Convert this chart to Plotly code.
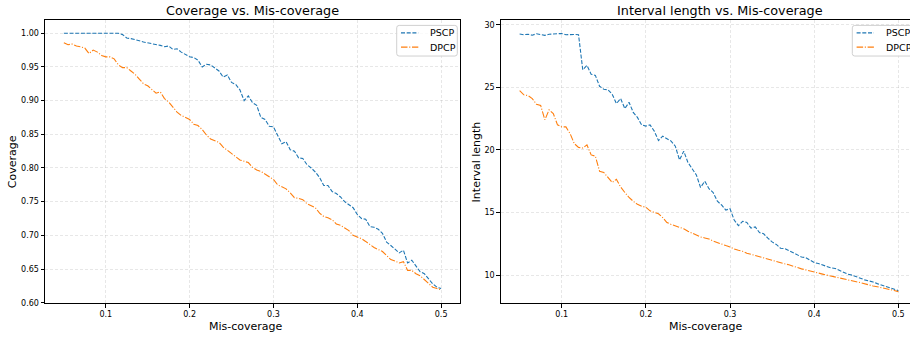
import plotly.graph_objects as go

miscoverage = [
    0.05, 0.055, 0.06, 0.065, 0.07, 0.075, 0.08, 0.085, 0.09, 0.095,
    0.1, 0.105, 0.11, 0.115, 0.12, 0.125, 0.13, 0.135, 0.14, 0.145,
    0.15, 0.155, 0.16, 0.165, 0.17, 0.175, 0.18, 0.185, 0.19, 0.195,
    0.2, 0.205, 0.21, 0.215, 0.22, 0.225, 0.23, 0.235, 0.24, 0.245,
    0.25, 0.255, 0.26, 0.265, 0.27, 0.275, 0.28, 0.285, 0.29, 0.295,
    0.3, 0.305, 0.31, 0.315, 0.32, 0.325, 0.33, 0.335, 0.34, 0.345,
    0.35, 0.355, 0.36, 0.365, 0.37, 0.375, 0.38, 0.385, 0.39, 0.395,
    0.4, 0.405, 0.41, 0.415, 0.42, 0.425, 0.43, 0.435, 0.44, 0.445,
    0.45, 0.455, 0.46, 0.465, 0.47, 0.475, 0.48, 0.485, 0.49, 0.495,
    0.5,
]

pscp_coverage = [
    1.0, 1.0, 1.0, 1.0, 1.0, 1.0, 1.0, 1.0, 1.0, 1.0,
    1.0, 1.0, 1.0, 1.0, 0.998, 0.993, 0.992, 0.991, 0.989, 0.987,
    0.986, 0.985, 0.984, 0.982, 0.980, 0.981, 0.976, 0.977, 0.972, 0.969,
    0.965, 0.964, 0.960, 0.950, 0.954, 0.953, 0.949, 0.944, 0.935, 0.938,
    0.927, 0.924, 0.916, 0.900, 0.907, 0.897, 0.893, 0.875, 0.872, 0.862,
    0.861, 0.848, 0.836, 0.839, 0.827, 0.825, 0.815, 0.814, 0.805, 0.800,
    0.794, 0.786, 0.774, 0.774, 0.765, 0.762, 0.757, 0.750, 0.746, 0.741,
    0.731, 0.725, 0.724, 0.713, 0.712, 0.709, 0.703, 0.690, 0.685, 0.680,
    0.674, 0.678, 0.659, 0.663, 0.655, 0.646, 0.643, 0.636, 0.628, 0.623,
    0.621,
]

dpcp_coverage = [
    0.986, 0.983, 0.984, 0.981, 0.980, 0.978, 0.970, 0.975, 0.972, 0.967,
    0.965, 0.965, 0.962, 0.953, 0.949, 0.949, 0.944, 0.939, 0.932, 0.925,
    0.922, 0.917, 0.911, 0.913, 0.903, 0.898, 0.891, 0.883, 0.878, 0.875,
    0.872, 0.865, 0.863, 0.857, 0.849, 0.843, 0.840, 0.838, 0.831, 0.826,
    0.821, 0.817, 0.812, 0.810, 0.808, 0.801, 0.797, 0.795, 0.791, 0.787,
    0.783, 0.775, 0.772, 0.769, 0.763, 0.756, 0.755, 0.753, 0.747, 0.744,
    0.741, 0.733, 0.728, 0.726, 0.723, 0.717, 0.715, 0.711, 0.707, 0.700,
    0.698, 0.695, 0.691, 0.686, 0.682, 0.679, 0.676, 0.670, 0.664, 0.662,
    0.659, 0.661, 0.648, 0.648, 0.643, 0.640, 0.634, 0.629, 0.623, 0.621,
    0.619,
]

pscp_length = [
    29.26, 29.2, 29.24, 29.16, 29.28, 29.2, 29.15, 29.24, 29.28, 29.28,
    29.3, 29.2, 29.24, 29.22, 29.2, 26.4, 26.75, 26.05, 25.95, 25.08,
    24.85, 24.8, 24.45, 23.7, 24.1, 23.3, 23.8, 23.0, 22.6, 22.0,
    21.9, 22.0, 21.5, 20.75, 21.1, 20.9, 20.7, 20.3, 19.2, 19.9,
    19.0, 18.5, 18.0, 17.0, 17.5, 16.9, 16.6, 15.9, 15.6, 15.2,
    15.3, 14.4, 13.95, 14.3, 14.2, 13.75, 13.85, 13.4, 13.3, 12.95,
    12.65, 12.45, 12.15, 12.12, 11.95, 11.8, 11.62, 11.45, 11.4, 11.2,
    11.0, 10.92, 10.8, 10.65, 10.58, 10.53, 10.38, 10.2, 10.08, 10.0,
    9.9, 9.75, 9.62, 9.56, 9.45, 9.32, 9.2, 9.1, 9.0, 8.87,
    8.76,
]

dpcp_length = [
    24.74, 24.4, 24.34, 24.1, 23.65, 23.55, 22.4, 23.2, 22.9, 22.0,
    21.84, 21.84, 21.3, 20.5, 20.2, 20.15, 20.4, 19.6, 19.5, 18.3,
    18.2, 17.76, 17.4, 17.65, 17.05, 16.6, 16.2, 15.9, 15.65, 15.5,
    15.42, 15.13, 15.0, 14.9, 14.6, 14.2, 14.05, 13.95, 13.8, 13.7,
    13.5, 13.35, 13.2, 13.05, 12.97, 12.88, 12.72, 12.62, 12.5, 12.36,
    12.25, 12.08, 11.98, 11.9, 11.75, 11.65, 11.58, 11.47, 11.36, 11.25,
    11.15, 11.04, 10.95, 10.9, 10.82, 10.7, 10.6, 10.5, 10.42, 10.35,
    10.28, 10.18, 10.08, 10.0, 9.93, 9.87, 9.8, 9.74, 9.65, 9.55,
    9.47, 9.4, 9.3, 9.2, 9.13, 9.07, 8.98, 8.92, 8.85, 8.77,
    8.68,
]

series_names = ["PSCP", "DPCP"]
x_ticks = [0.1, 0.2, 0.3, 0.4, 0.5]
cov_ticks = [0.60, 0.65, 0.70, 0.75, 0.80, 0.85, 0.90, 0.95, 1.00]
len_ticks = [10, 15, 20, 25, 30]

BLUE = "#1f77b4"
ORANGE = "#ff7f0e"
FONT = "DejaVu Sans"
W, H = 910, 341
DASH = "4px,1.7px"
DASHDOT = "6.5px,1.7px,1.1px,1.7px"
LW = 1.1

fig = go.Figure()

fig.add_trace(go.Scatter(x=miscoverage, y=pscp_coverage, mode="lines", name=series_names[0],
                         line=dict(color=BLUE, width=LW, dash=DASH), xaxis="x", yaxis="y"))
fig.add_trace(go.Scatter(x=miscoverage, y=dpcp_coverage, mode="lines", name=series_names[1],
                         line=dict(color=ORANGE, width=LW, dash=DASHDOT), xaxis="x", yaxis="y"))
fig.add_trace(go.Scatter(x=miscoverage, y=pscp_length, mode="lines", name=series_names[0],
                         line=dict(color=BLUE, width=LW, dash=DASH), xaxis="x2", yaxis="y2"))
fig.add_trace(go.Scatter(x=miscoverage, y=dpcp_length, mode="lines", name=series_names[1],
                         line=dict(color=ORANGE, width=LW, dash=DASHDOT), xaxis="x2", yaxis="y2"))

ydom = [1 - 307 / H, 1 - 20.7 / H]
axis_common = dict(
    showline=True, linecolor="black", linewidth=1,
    ticks="outside", ticklen=3.5, tickwidth=0.8, tickcolor="black",
    tickfont=dict(family=FONT, size=8, color="black"),
    showgrid=True, gridcolor="rgba(170,170,170,0.28)", gridwidth=0.8, griddash="3px,2px",
    zeroline=False,
)

fig.update_layout(
    width=W, height=H,
    margin=dict(l=0, r=0, t=0, b=0),
    paper_bgcolor="white", plot_bgcolor="white",
    font=dict(family=FONT, color="black"),
    showlegend=False,
    xaxis=dict(domain=[45 / W, 460 / W], range=[0.0275, 0.5225], anchor="y",
               tickvals=x_ticks, ticktext=[f"{v:.1f}" for v in x_ticks], mirror=True, **axis_common),
    yaxis=dict(domain=ydom, range=[0.599, 1.019], anchor="x",
               tickvals=cov_ticks, ticktext=[f"{v:.2f}" for v in cov_ticks], mirror=True, **axis_common),
    xaxis2=dict(domain=[500.7 / W, 1.0], range=[0.0275, 0.5139], anchor="y2",
                tickvals=x_ticks, ticktext=[f"{v:.1f}" for v in x_ticks], mirror=True, **axis_common),
    yaxis2=dict(domain=ydom, range=[7.74, 30.34], anchor="x2",
                tickvals=len_ticks, ticktext=[str(v) for v in len_ticks], mirror=False, **axis_common),
)

annotations = [
    dict(text="Coverage vs. Mis-coverage", x=252.5 / W, y=1 - 10.5 / H, font=dict(size=12.8)),
    dict(text="Interval length vs. Mis-coverage", x=720 / W, y=1 - 10.5 / H, font=dict(size=12.8)),
    dict(text="Mis-coverage", x=245.5 / W, y=1 - 330.5 / H, font=dict(size=11)),
    dict(text="Mis-coverage", x=706 / W, y=1 - 330.5 / H, font=dict(size=11)),
    dict(text="Coverage", x=13.3 / W, y=1 - 163.8 / H, font=dict(size=11), textangle=-90),
    dict(text="Interval length", x=476.3 / W, y=1 - 164 / H, font=dict(size=11), textangle=-90),
]
for a in annotations:
    a.update(xanchor="center")

# legend boxes (drawn as paper-space decorations so they may run off the page edge like the reference)
shapes = []
styles = [(BLUE, DASH), (ORANGE, DASHDOT)]
for left in (396.7, 852.3):
    x0, x1, y0, y1, r = left, left + 60.6, 25.7, 56.7, 2.5
    px = lambda v: v / W
    py = lambda v: 1 - v / H
    path = (f"M {px(x0 + r)},{py(y0)} L {px(x1 - r)},{py(y0)} Q {px(x1)},{py(y0)} {px(x1)},{py(y0 + r)} "
            f"L {px(x1)},{py(y1 - r)} Q {px(x1)},{py(y1)} {px(x1 - r)},{py(y1)} "
            f"L {px(x0 + r)},{py(y1)} Q {px(x0)},{py(y1)} {px(x0)},{py(y1 - r)} "
            f"L {px(x0)},{py(y0 + r)} Q {px(x0)},{py(y0)} {px(x0 + r)},{py(y0)} Z")
    shapes.append(dict(type="path", path=path, xref="paper", yref="paper",
                       fillcolor="rgba(255,255,255,0.8)", line=dict(color="#d0d0d0", width=1), layer="above"))
    for i, (name, (col, dsh)) in enumerate(zip(series_names, styles)):
        yc = 33.3 + i * 14.4
        shapes.append(dict(type="line", xref="paper", yref="paper",
                           x0=px(left + 4.3), x1=px(left + 21.6), y0=py(yc), y1=py(yc),
                           line=dict(color=col, width=LW, dash=dsh), layer="above"))
        annotations.append(dict(text=name, x=px(left + 31.4), y=py(yc), xanchor="left",
                                font=dict(size=9.5)))

for a in annotations:
    a.update(xref="paper", yref="paper", showarrow=False, yanchor="middle")
    a.setdefault("font", {})
    a["font"].update(family=FONT, color="black")
fig.update_layout(annotations=annotations, shapes=shapes)

fig.write_html("out.html")
